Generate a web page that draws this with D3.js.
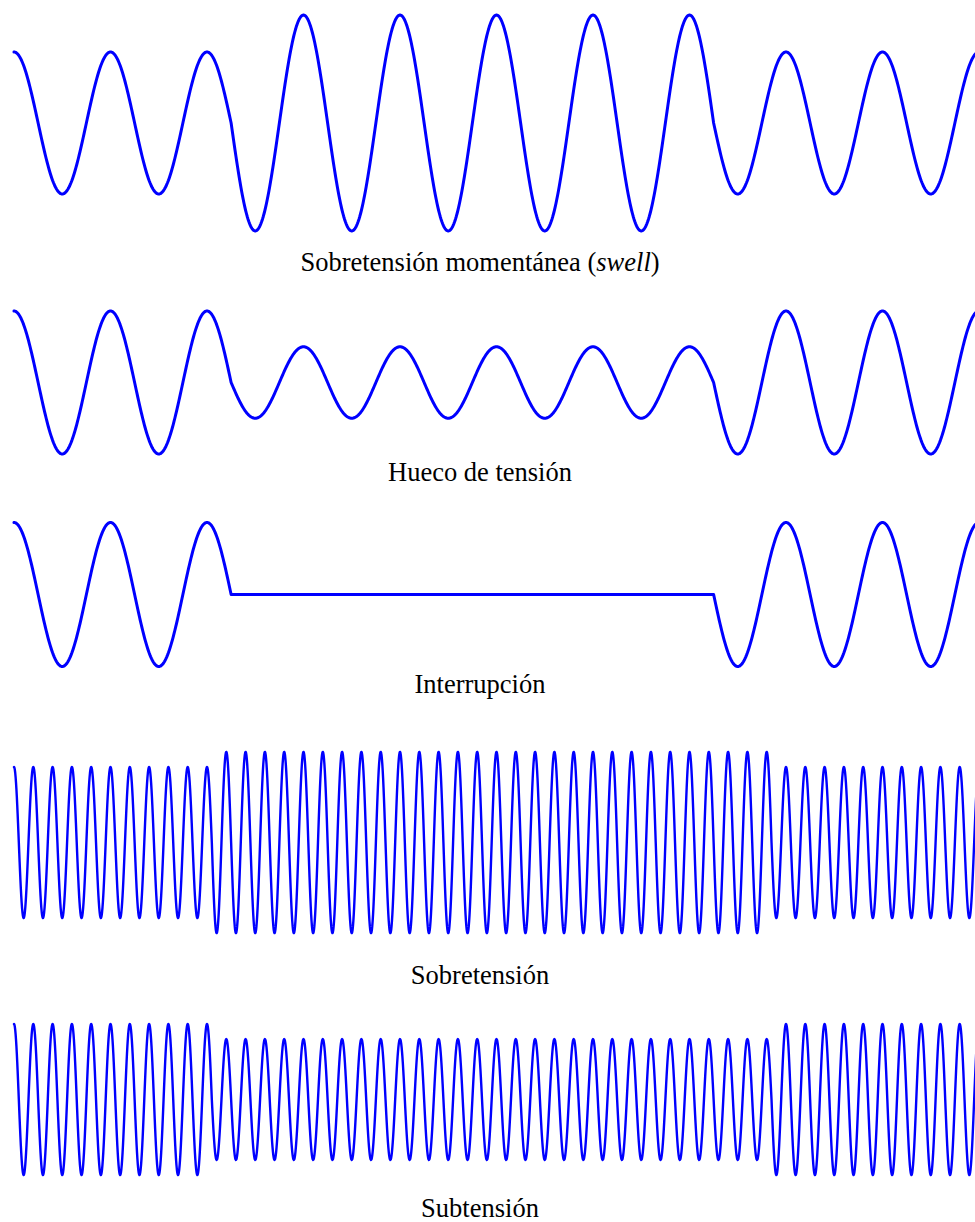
<!DOCTYPE html>
<html>
<head>
<meta charset="utf-8">
<script src="https://cdn.jsdelivr.net/npm/d3@7"></script>
<style>
  html, body { margin: 0; padding: 0; background: #fff; overflow: hidden; }
  svg { display: block; }
</style>
</head>
<body>
<svg id="chart" width="975" height="1222"></svg>
<script>
// ---- Data ----
const panelTitles   = ["Sobretensión momentánea", "Hueco de tensión", "Interrupción", "Sobretensión", "Subtensión"];
const panelItalic   = ["swell", "", "", "", ""];
const cyclesShown   = [10, 10, 10, 50, 50];          // number of cycles across the panel
const eventStart    = [2.25, 2.25, 2.25, 10.25, 10.25]; // cycle where disturbance begins
const eventEnd      = [7.25, 7.25, 7.25, 39.25, 39.25]; // cycle where disturbance ends
const normalAmp     = [1, 1, 1, 1, 1];               // per-unit amplitude outside event
const eventAmp      = [1.52, 0.5, 0, 1.2, 0.8];      // per-unit amplitude during event

// ---- Layout ----
const W = 975, H = 1222;
const xLeft = 14, xRight = 979;
const centers = [123, 382.5, 594.5, 842.5, 1099.5];
const ampPx   = [71, 71.5, 72, 75.5, 75.5];
const labelY  = [271, 481, 693, 984, 1217];
const strokeW = [3, 3, 3, 2.4, 2.4];

const svg = d3.select("#chart");
svg.append("rect").attr("width", W).attr("height", H).attr("fill", "#fff");

panelTitles.forEach((title, i) => {
  const n = cyclesShown[i];
  const x = d3.scaleLinear().domain([0, n]).range([xLeft, xRight]);
  const y = d3.scaleLinear().domain([-1, 1]).range([centers[i] + ampPx[i], centers[i] - ampPx[i]]);

  const amp = t => (t > eventStart[i] && t < eventEnd[i]) ? eventAmp[i] : normalAmp[i];
  const perCycle = n > 20 ? 48 : 120;
  const ts = d3.range(0, n * perCycle + 1).map(k => k / perCycle);
  ts.push(eventStart[i], eventEnd[i]);
  ts.sort((a, b) => a - b);
  const pts = ts.map(t => [t, amp(t) * Math.cos(2 * Math.PI * t)]);

  const line = d3.line().x(d => x(d[0])).y(d => y(d[1]));
  svg.append("path")
    .datum(pts)
    .attr("d", line)
    .attr("fill", "none")
    .attr("stroke", "#0000ff")
    .attr("stroke-width", strokeW[i])
    .attr("stroke-linejoin", "round")
    .attr("stroke-linecap", "round");

  const txt = svg.append("text")
    .attr("x", 480)
    .attr("y", labelY[i])
    .attr("text-anchor", "middle")
    .attr("font-family", "'Liberation Serif', 'Times New Roman', serif")
    .attr("font-size", 26.5)
    .attr("fill", "#000");
  txt.append("tspan").text(title);
  if (panelItalic[i]) {
    txt.append("tspan").text(" (");
    txt.append("tspan").attr("font-style", "italic").text(panelItalic[i]);
    txt.append("tspan").text(")");
  }
});
</script>
</body>
</html>
